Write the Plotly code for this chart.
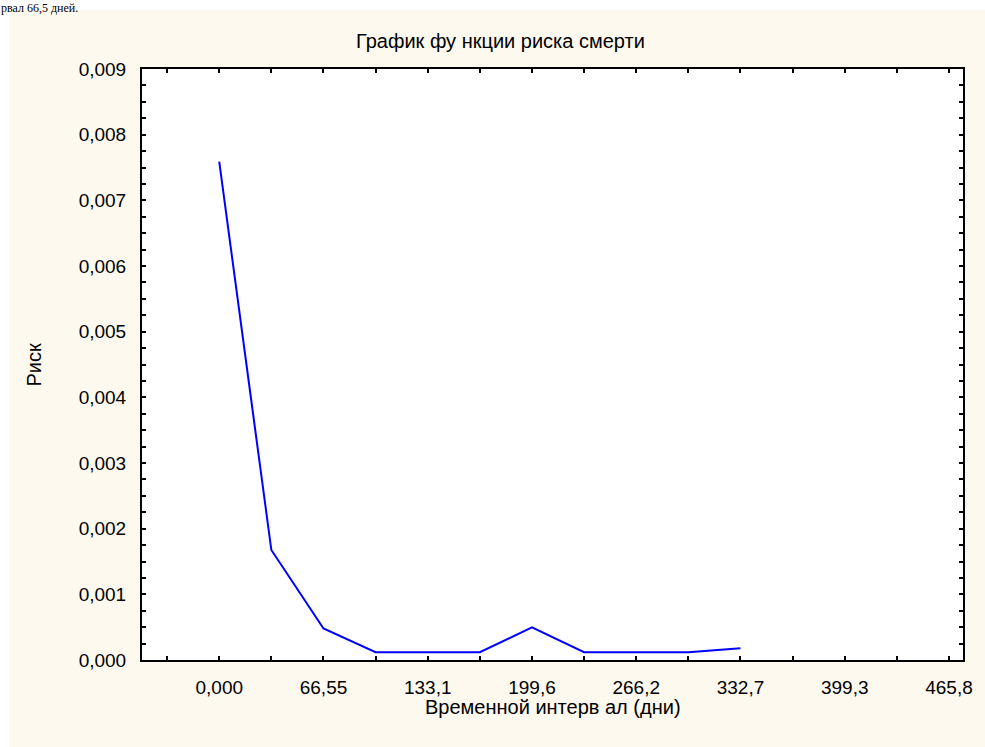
import plotly.graph_objects as go

# Data
interval_start = [0, 33.275, 66.55, 99.825, 133.1, 166.375, 199.65, 232.925, 266.2, 299.475, 332.75]
hazard = [0.00759, 0.001675, 0.00048, 0.000118, 0.000118, 0.000118, 0.000498, 0.000118, 0.000118, 0.000118, 0.000178]

x_tick_vals = [-33.275, 0, 33.275, 66.55, 99.825, 133.1, 166.375, 199.65, 232.925, 266.2, 299.475, 332.75, 366.025, 399.3, 432.575, 465.85]
x_tick_text = ["", "0,000", "", "66,55", "", "133,1", "", "199,6", "", "266,2", "", "332,7", "", "399,3", "", "465,8"]

y_tick_vals = [i * 0.00025 for i in range(37)]
y_major_text = ["0,000", "0,001", "0,002", "0,003", "0,004", "0,005", "0,006", "0,007", "0,008", "0,009"]
y_tick_text = [y_major_text[i // 4] if i % 4 == 0 else "" for i in range(37)]

title_text = "График фу нкции риска смерти"
x_title = "Временной интерв ал (дни)"
y_title = "Риск"
doc_text = "рвал 66,5 дней."

W, H = 985, 747
L, R, T, B = 142, 22, 69, 87
cream = "#FDF9EF"
font = "Liberation Sans"

fig = go.Figure()
fig.add_trace(go.Scatter(x=interval_start, y=hazard, mode="lines",
                         line=dict(color="#0000FF", width=2), showlegend=False,
                         hoverinfo="x+y"))

axis_common = dict(showgrid=False, zeroline=False, showline=True, linecolor="black",
                   linewidth=2, mirror="ticks", ticks="inside", ticklen=4,
                   tickwidth=2, tickcolor="black",
                   tickfont=dict(family=font, size=19, color="black"))

fig.update_xaxes(range=[-49.3, 474.8], tickmode="array", tickvals=x_tick_vals,
                 ticktext=x_tick_text, ticklabelstandoff=9, **axis_common)
fig.update_yaxes(range=[0, 0.009], tickmode="array", tickvals=y_tick_vals,
                 ticktext=y_tick_text, ticklabelstandoff=10, **axis_common)

pw = W - L - R
ph = H - T - B
def px_x(p):
    return (p - L) / pw
def px_y(p):
    return 1 - (p - T) / ph

# white strips (page background) at top and left
fig.add_shape(type="rect", xref="paper", yref="paper", x0=px_x(0), x1=px_x(W),
              y0=px_y(0), y1=px_y(10), fillcolor="white", line_width=0, layer="below")
fig.add_shape(type="rect", xref="paper", yref="paper", x0=px_x(0), x1=px_x(9),
              y0=px_y(0), y1=px_y(H), fillcolor="white", line_width=0, layer="below")

fig.add_annotation(text=title_text, xref="paper", yref="paper", x=px_x(500), y=px_y(41),
                   showarrow=False, xanchor="center", yanchor="middle",
                   font=dict(family=font, size=20, color="black"))
fig.add_annotation(text=x_title, xref="paper", yref="paper", x=0.5, y=px_y(707),
                   showarrow=False, xanchor="center", yanchor="middle",
                   font=dict(family=font, size=20, color="black"))
fig.add_annotation(text=y_title, xref="paper", yref="paper", x=px_x(33), y=0.5,
                   showarrow=False, xanchor="center", yanchor="middle", textangle=-90,
                   font=dict(family=font, size=20, color="black"))
fig.add_annotation(text=doc_text, xref="paper", yref="paper", x=px_x(0), y=px_y(0),
                   showarrow=False, xanchor="left", yanchor="top", borderpad=0,
                   font=dict(family="Liberation Serif", size=12, color="black"))

fig.update_layout(width=W, height=H, margin=dict(l=L, r=R, t=T, b=B, pad=0),
                  paper_bgcolor=cream, plot_bgcolor="white", showlegend=False)

fig.write_html("out.html", config={"displayModeBar": False},
               post_script="document.body.style.margin='0';document.body.style.overflow='hidden';")
